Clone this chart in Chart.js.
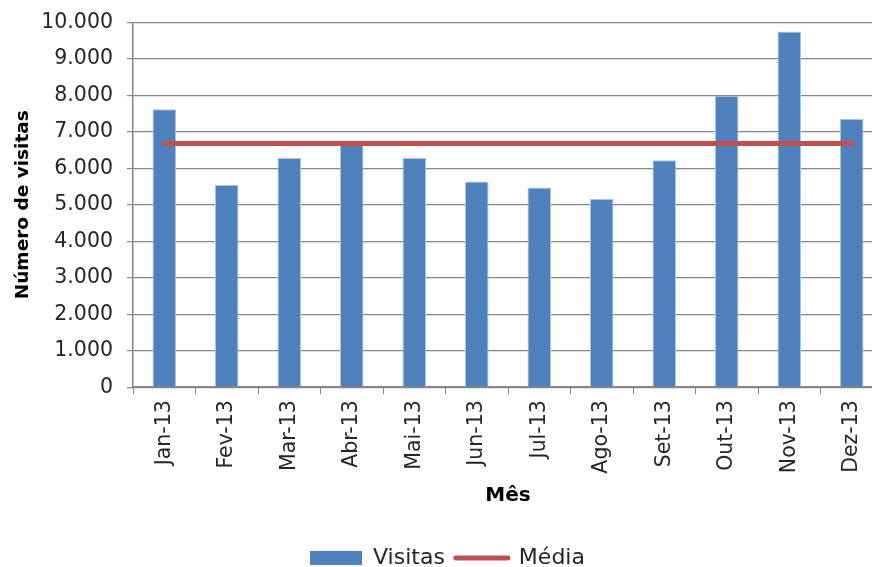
<!DOCTYPE html>
<html>
<head>
<meta charset="utf-8">
<script src="https://cdn.jsdelivr.net/npm/chart.js@4/dist/chart.umd.min.js"></script>
<style>
  html, body { margin: 0; padding: 0; background: #fff; overflow: hidden; }
  #wrap { width: 872px; height: 567px; overflow: hidden; position: relative; }
  canvas { display: block; }
</style>
</head>
<body>
<div id="wrap"><canvas id="c" width="884" height="579" style="width:884px;height:579px"></canvas></div>
<script>
// ---- data ----
const categories = ['Jan-13','Fev-13','Mar-13','Abr-13','Mai-13','Jun-13','Jul-13','Ago-13','Set-13','Out-13','Nov-13','Dez-13'];
const visitas = [7620, 5540, 6280, 6650, 6280, 5640, 5470, 5160, 6220, 7990, 9750, 7350];
const media = [6680, 6680, 6680, 6680, 6680, 6680, 6680, 6680, 6680, 6680, 6680, 6680];
const yTicks = [0, 1000, 2000, 3000, 4000, 5000, 6000, 7000, 8000, 9000, 10000];
const yTickLabels = ['0', '1.000', '2.000', '3.000', '4.000', '5.000', '6.000', '7.000', '8.000', '9.000', '10.000'];
const seriesNames = ['Visitas', 'Média'];
const xTitle = 'Mês';
const yTitle = 'Número de visitas';

const FONT = 'DejaVu Sans';
const GRID = '#868686';

new Chart(document.getElementById('c'), {
  type: 'bar',
  data: {
    labels: categories,
    datasets: [
      {
        type: 'bar',
        label: seriesNames[0],
        data: visitas,
        backgroundColor: '#4F81BD',
        borderColor: '#A9C1E0',
        borderWidth: 1,
        barPercentage: 0.376,
        categoryPercentage: 1,
        order: 1
      },
      {
        type: 'line',
        label: seriesNames[1],
        data: media,
        borderColor: '#C0504D',
        backgroundColor: '#C0504D',
        borderWidth: 5,
        borderCapStyle: 'round',
        pointRadius: 0,
        tension: 0,
        order: 0
      }
    ]
  },
  options: {
    responsive: false,
    animation: false,
    devicePixelRatio: 1,
    layout: { padding: { top: 22.3, left: 12, right: 1, bottom: 0 } },
    plugins: {
      tooltip: { enabled: false },
      legend: {
        position: 'bottom',
        labels: {
          font: { family: FONT, size: 22 },
          color: '#262626',
          usePointStyle: true,
          pointStyleWidth: 52,
          boxHeight: 14,
          padding: 11,
          sort: (a, b) => a.datasetIndex - b.datasetIndex,
          generateLabels: (chart) => {
            const items = Chart.defaults.plugins.legend.labels.generateLabels(chart);
            items.forEach(it => {
              if (it.datasetIndex === 0) {
                it.pointStyle = 'rect';
                it.lineWidth = 0;
                it.strokeStyle = '#4F81BD';
                it.fillStyle = '#4F81BD';
              } else {
                it.pointStyle = 'line';
                it.lineWidth = 5;
                it.strokeStyle = '#C0504D';
                it.lineCap = 'round';
              }
            });
            return items;
          }
        }
      }
    },
    scales: {
      x: {
        offset: true,
        grid: { display: true, drawOnChartArea: false, drawTicks: true, tickLength: 7, color: GRID, offset: true },
        border: { color: GRID, width: 1.5 },
        ticks: {
          autoSkip: false,
          minRotation: 90,
          maxRotation: 90,
          padding: 6,
          color: '#262626',
          font: { family: FONT, size: 20.5 }
        },
        title: {
          display: true,
          text: xTitle,
          color: '#000',
          font: { family: FONT, size: 20, weight: 'bold' },
          padding: { top: 0, bottom: 28.5 }
        },
        afterFit: (s) => { s.height = 148.8; }
      },
      y: {
        min: 0,
        max: 10000,
        afterBuildTicks: (s) => { s.ticks = yTicks.map(v => ({ value: v })); },
        grid: { color: GRID, lineWidth: 1.2, tickLength: 6, drawTicks: true },
        border: { color: GRID, width: 1.5 },
        ticks: {
          padding: 14,
          color: '#262626',
          font: { family: FONT, size: 20.5, lineHeight: 0.8 },
          callback: (v, i) => yTickLabels[i]
        },
        title: {
          display: true,
          text: yTitle,
          color: '#000',
          font: { family: FONT, size: 18.5, weight: 'bold' },
          padding: 0
        },
        afterFit: (s) => { s.width = 121; }
      }
    }
  }
});
</script>
</body>
</html>
